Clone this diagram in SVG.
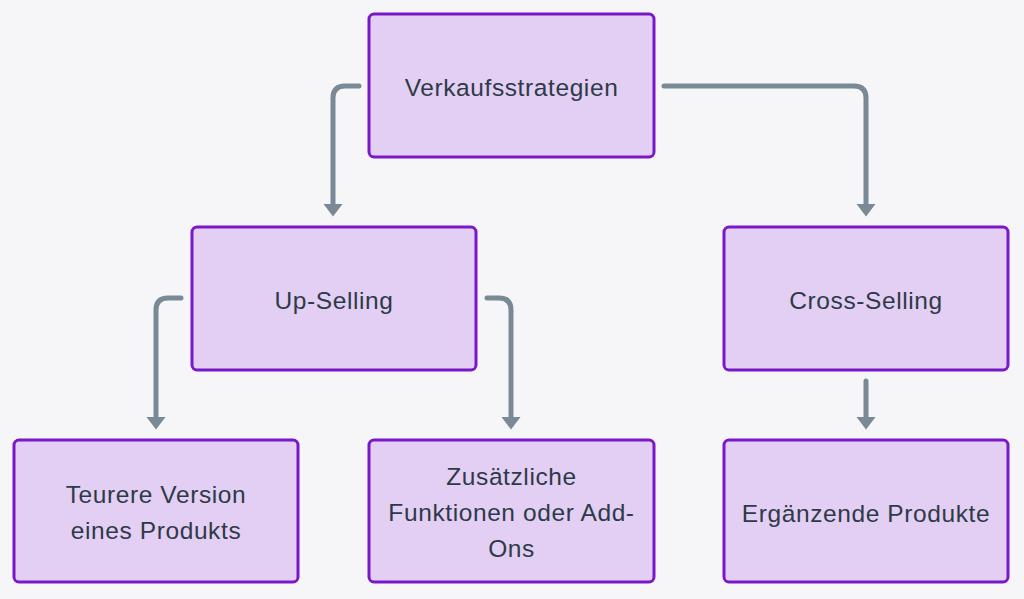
<svg xmlns="http://www.w3.org/2000/svg" width="1024" height="599" viewBox="0 0 1024 599">
<style>
.box{fill:#e3cff3;stroke:#7a18c9;stroke-width:3}
.lbl{font-family:"Liberation Sans",Arial,sans-serif;font-size:24.5px;letter-spacing:0.6px;fill:#2e3a47;text-anchor:middle}
.edge{fill:none;stroke:#7a8996;stroke-width:5;stroke-linecap:round;stroke-linejoin:round}
</style>
<defs>
<marker id="arr" viewBox="0 -10 13 20" refX="0" refY="0" markerWidth="13" markerHeight="20" markerUnits="userSpaceOnUse" orient="auto">
<path d="M0,-9.5 L12.5,0 L0,9.5 z" fill="#7a8996"/>
</marker>
</defs>
<rect width="1024" height="599" fill="#f6f6f8"/>
<g id="connectors">
<path class="edge" marker-end="url(#arr)" d="M359,86 H345 Q333,86 333,98 V204"/>
<path class="edge" marker-end="url(#arr)" d="M664,86 H854 Q866,86 866,98 V204"/>
<path class="edge" marker-end="url(#arr)" d="M181,298 H168 Q156,298 156,310 V417"/>
<path class="edge" marker-end="url(#arr)" d="M487,298 H499 Q511,298 511,310 V417"/>
<path class="edge" marker-end="url(#arr)" d="M866,381 V417"/>
</g>
<g id="verkaufsstrategien">
<rect class="box" x="369" y="14" width="285" height="143" rx="5"/>
<text class="lbl" x="511.5" y="96">Verkaufsstrategien</text>
</g>
<g id="up-selling">
<rect class="box" x="192" y="227" width="284" height="143" rx="5"/>
<text class="lbl" x="334" y="308.5">Up-Selling</text>
</g>
<g id="cross-selling">
<rect class="box" x="724" y="227" width="284" height="143" rx="5"/>
<text class="lbl" x="866" y="308.5">Cross-Selling</text>
</g>
<g id="teurere-version">
<rect class="box" x="14" y="440" width="284" height="142" rx="5"/>
<text class="lbl" x="156" y="503">Teurere Version</text>
<text class="lbl" x="156" y="539">eines Produkts</text>
</g>
<g id="zusaetzliche-funktionen">
<rect class="box" x="369" y="440" width="285" height="142" rx="5"/>
<text class="lbl" x="511.5" y="485">Zusätzliche</text>
<text class="lbl" x="511.5" y="521">Funktionen oder Add-</text>
<text class="lbl" x="511.5" y="557">Ons</text>
</g>
<g id="ergaenzende-produkte">
<rect class="box" x="724" y="440" width="284" height="142" rx="5"/>
<text class="lbl" x="866" y="521.5">Ergänzende Produkte</text>
</g>
</svg>
